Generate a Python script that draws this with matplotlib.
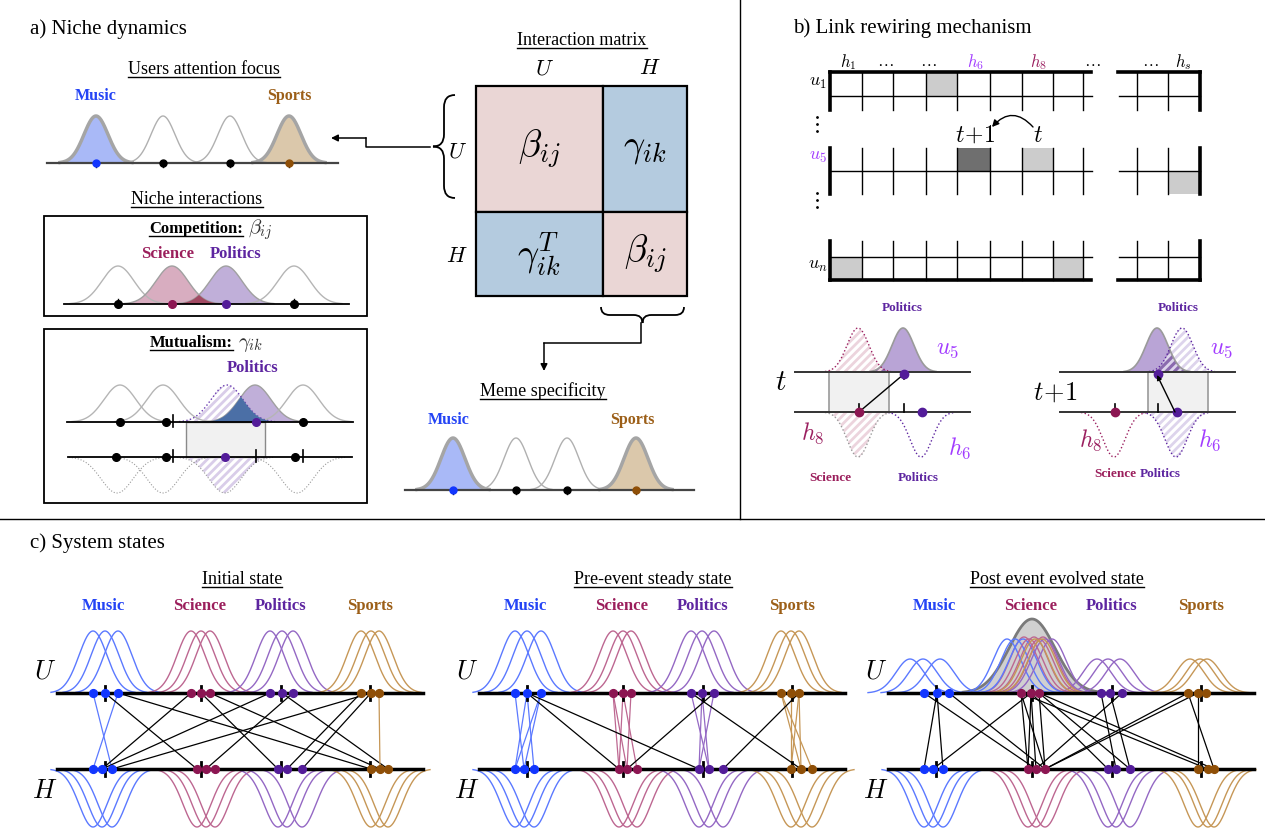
import numpy as np
import matplotlib
matplotlib.use("Agg")
import matplotlib.pyplot as plt
from matplotlib.patches import Rectangle, PathPatch, FancyArrowPatch
from matplotlib.path import Path

plt.rcParams["font.family"] = ["Liberation Serif", "DejaVu Serif"]
plt.rcParams["mathtext.fontset"] = "cm"
plt.rcParams["hatch.linewidth"] = 2.0

# topics
topics = ["Music", "Science", "Politics", "Sports"]
text_colors = ["#2444f5", "#9b1f5c", "#5d25a0", "#9c5f18"]
dot_colors = ["#1236ff", "#8c1652", "#531c99", "#8f4f07"]
curve_colors = ["#5b79ff", "#bd6791", "#9468c4", "#c69757"]
fill_colors = ["#a9b9f7", "#d8adc0", "#c0afd9", "#dbc8ab"]

# a) niche dynamics
focus_centres = [96, 163, 230, 289]
focus_topics = [0, None, None, 3]
meme_centres = [453, 516, 567, 636]
meme_topics = [0, None, None, 3]
competition_centres = [118, 172, 226, 294]
competition_topics = [None, 1, 2, None]
competition_label_x = [None, 168, 236, None]
mutual_user_centres = [120, 163, 255, 303]
mutual_user_dots = [120, 166, 256, 303]
mutual_meme_centres = [117, 163, 225, 297]
mutual_meme_dots = [116, 166, 225, 295]
mutual_topics = [None, None, 2, None]
mutual_ticks_top = [173]
mutual_ticks_bottom = [173, 256, 303]

# interaction matrix
matrix_share = [0.6, 0.4]
matrix_names = ["U", "H"]
matrix_labels = [[r"$\beta_{ij}$", r"$\gamma_{ik}$"],
                 [r"$\gamma_{ik}^{T}$", r"$\beta_{ij}$"]]
matrix_kind = [["comp", "mut"], ["mut", "comp"]]

# b) adjacency matrix u x h, shaded cells as (row band, column)
col_labels = [r"$h_1$", r"$\ldots$", r"$\ldots$", r"$h_6$", r"$h_8$", r"$\ldots$", r"$\ldots$", r"$h_s$"]
row_labels = [r"$u_1$", r"$u_5$", r"$u_n$"]
light_cells = [(0, 3), (1, 6), (3, 0), (3, 7)]
dark_cells = [(1, 4)]
tail_light_cells = [(2, 1)]

# c) system states: niche positions of users (U) and memes (H) per topic
topic_ticks = [105, 201, 281, 370]
initial_users = [[93, 105, 118], [191, 201, 210], [270, 282, 293], [361, 371, 379]]
initial_memes = [[93, 102, 112], [197, 206, 215], [278, 287, 302], [371, 380, 388]]
initial_links = [((0, 0), (0, 2)), ((0, 2), (0, 0)), ((0, 1), (1, 0)), ((0, 2), (3, 0)),
                 ((1, 0), (0, 1)), ((2, 0), (0, 1)), ((3, 1), (0, 2)), ((1, 1), (2, 0)),
                 ((1, 2), (3, 1)), ((2, 2), (1, 1)), ((2, 1), (3, 2)), ((3, 0), (2, 1)),
                 ((3, 1), (2, 2)), ((3, 2), (3, 1))]

pre_users = [[93, 105, 119], [191, 201, 209], [269, 280, 292], [359, 369, 377]]
pre_memes = [[93, 102, 112], [197, 205, 215], [277, 287, 301], [369, 379, 390]]
pre_links = [((0, 0), (0, 1)), ((0, 1), (0, 0)), ((0, 1), (0, 2)), ((0, 2), (0, 0)), ((0, 2), (0, 1)),
             ((1, 0), (1, 0)), ((1, 0), (1, 1)), ((1, 1), (1, 0)), ((1, 2), (1, 1)), ((1, 1), (1, 2)),
             ((2, 0), (2, 1)), ((2, 1), (2, 0)), ((2, 2), (2, 0)), ((2, 1), (2, 1)),
             ((3, 0), (3, 1)), ((3, 0), (3, 2)), ((3, 1), (3, 0)), ((3, 2), (3, 1)), ((3, 2), (3, 0)),
             ((0, 1), (1, 0)), ((0, 1), (2, 0)), ((2, 2), (1, 1)), ((2, 0), (3, 1)), ((3, 2), (2, 2))]

post_users = [[93, 106, 118], [190, 200, 208], [270, 279, 291], [357, 367, 375]]
post_memes = [[93, 102, 112], [197, 205, 214], [277, 285, 299], [367, 377, 383]]
post_curves = [[79, 92, 109], [193, 203, 212], [266, 277, 289], [359, 369, 376]]
post_heights = [34, 56, 34, 34]
post_migrated = [(0, 176), (0, 184), (0, 192), (1, 198), (1, 208), (2, 214), (2, 221), (3, 204), (3, 211)]
post_event = (201, 74, 23)
post_links = [((0, 1), (0, 0)), ((0, 1), (0, 2)), ((0, 0), (1, 1)), ((0, 2), (1, 2)), ((1, 1), (0, 1)),
              ((1, 0), (1, 0)), ((1, 1), (1, 0)), ((1, 1), (1, 1)), ((1, 2), (1, 2)), ((1, 0), (1, 2)),
              ((1, 1), (2, 0)), ((1, 2), (2, 2)), ((1, 0), (3, 1)), ((1, 2), (3, 2)),
              ((2, 0), (2, 1)), ((2, 1), (2, 2)), ((2, 2), (1, 1)),
              ((3, 0), (1, 2)), ((3, 1), (1, 2)), ((3, 0), (3, 2)), ((3, 1), (3, 0))]


fig = plt.figure(figsize=(12.65, 8.31), dpi=100)
ax = fig.add_axes([0, 0, 1, 1])
ax.set_xlim(0, 1265)
ax.set_ylim(831, 0)
ax.axis("off")

underline = []


def bump(c, base, h, s, span=3.0):
    x = np.linspace(c - span * s, c + span * s, 200)
    return x, base - h * np.exp(-0.5 * ((x - c) / s) ** 2)


def curve(c, base, h, s, color="#aaaaaa", lw=1.0, ls="-", fill=None, hatch=None, z=2, alpha=1.0):
    x, y = bump(c, base, h, s)
    if fill is not None:
        ax.fill_between(x, base, y, facecolor=fill, lw=0, zorder=z)
    if hatch is not None:
        ax.fill_between(x, base, y, facecolor="none", edgecolor=hatch, hatch="////", lw=0, zorder=z)
    ax.plot(x, y, color=color, lw=lw, ls=ls, alpha=alpha, zorder=z + 0.5)


def overlap(c1, c2, base, h, s, color, z=3):
    x = np.linspace(min(c1, c2) - 3 * s, max(c1, c2) + 3 * s, 300)
    g = np.minimum(np.exp(-0.5 * ((x - c1) / s) ** 2), np.exp(-0.5 * ((x - c2) / s) ** 2))
    ax.fill_between(x, base, base - h * g, facecolor=color, lw=0, zorder=z)


def dot(x, y, color, ms=5.5, z=6):
    ax.plot(x, y, "o", color=color, ms=ms, zorder=z)


def tick(x, y, up=6, down=6, lw=1.5):
    ax.plot([x, x], [y - up, y + down], color="k", lw=lw, zorder=5)


def label(x, y, s, color, size=12):
    ax.text(x, y, s, color=color, fontsize=size, fontweight="bold", ha="center", va="center")


def heading(x, y, s, size=13, ha="center", **kw):
    t = ax.text(x, y, s, fontsize=size, ha=ha, va="baseline", **kw)
    underline.append((t, y))


def brace(a0, a1, end, tip, vertical=True, lw=1.3):
    mid = (end + tip) / 2
    c = (a0 + a1) / 2
    r = abs(tip - end) * 0.55
    pts = [(a0, end), (a0, mid), (a0 + r, mid), (c - r, mid), (c, mid), (c, tip),
           (c, mid), (c + r, mid), (a1 - r, mid), (a1, mid), (a1, end)]
    codes = [Path.MOVETO, Path.CURVE3, Path.CURVE3, Path.LINETO, Path.CURVE3, Path.CURVE3,
             Path.CURVE3, Path.CURVE3, Path.LINETO, Path.CURVE3, Path.CURVE3]
    if vertical:
        pts = [(q, p) for p, q in pts]
    ax.add_patch(PathPatch(Path(pts, codes), fill=False, lw=lw, ec="k"))


def arrow(p0, p1, lw=1.1, scale=10, style="arc3"):
    ax.add_patch(FancyArrowPatch(p0, p1, arrowstyle="-|>", mutation_scale=scale, color="k",
                                 lw=lw, shrinkA=0, shrinkB=0, connectionstyle=style, zorder=7))


# ---------------- a) Niche dynamics ----------------
ax.text(30, 34, "a) Niche dynamics", fontsize=15, va="baseline")

heading(204, 74, "Users attention focus")
ax.plot([47, 338], [163, 163], color="#444444", lw=1.6, zorder=4)
for c, t in zip(focus_centres, focus_topics):
    if t is None:
        curve(c, 163, 47, 12, color="#b0b0b0", lw=1.0)
        dot(c, 163, "k", ms=5)
    else:
        curve(c, 163, 47, 12, color="#a5a5a5", lw=2.5, fill=fill_colors[t])
        dot(c, 163, dot_colors[t], ms=5)
        label(c, 96, topics[t], text_colors[t], 11.5)
    tick(c, 163, 0, 4, lw=1)

heading(197, 204, "Niche interactions")

# competition
ax.add_patch(Rectangle((44, 216), 323, 100, fill=False, lw=1.3, ec="k"))
heading(243, 233, "Competition:", size=12, ha="right", fontweight="bold")
ax.text(248, 233, r"$\beta_{ij}$", fontsize=15, va="baseline", color="#333333")
ax.plot([64, 349], [304, 304], color="k", lw=1.3, zorder=4)
for c, t, lx in zip(competition_centres, competition_topics, competition_label_x):
    if t is None:
        curve(c, 304, 38, 16, color="#b5b5b5", lw=1.0)
        dot(c, 304, "k", ms=5.5)
        tick(c, 304, 5, 0, lw=1)
    else:
        curve(c, 304, 38, 16, color="#a0a0a0", lw=1.0, fill=fill_colors[t])
        dot(c, 304, dot_colors[t], ms=5.5)
        label(lx, 254, topics[t], text_colors[t], 12)
overlap(competition_centres[1], competition_centres[2], 304, 38, 16, "#a24a63")

# mutualism
ax.add_patch(Rectangle((44, 329), 323, 174, fill=False, lw=1.3, ec="k"))
heading(233, 347, "Mutualism:", size=12, ha="right", fontweight="bold")
ax.text(238, 347, r"$\gamma_{ik}$", fontsize=15, va="baseline", color="#333333")
ax.add_patch(Rectangle((186, 422), 79, 35, fc="#f1f1f1", ec="#8a8a8a", lw=1.0, zorder=1))
for c, d, t in zip(mutual_user_centres, mutual_user_dots, mutual_topics):
    if t is None:
        curve(c, 422, 37, 16, color="#b5b5b5", lw=1.0)
        dot(d, 422, "k", ms=5.5)
    else:
        curve(c, 422, 37, 16, color="#a0a0a0", lw=1.0, fill=fill_colors[t])
        dot(d, 422, dot_colors[t], ms=5.5)
        label(c - 2, 368, topics[t], text_colors[t], 12)
proj = mutual_meme_centres[2] + 2
curve(proj, 422, 37, 16, color="#6a3cb0", lw=1.0, ls=":", hatch="#d9cde9", z=2.2)
overlap(proj, mutual_user_centres[2], 422, 37, 16, "#4b6fa6", z=3)
for c, d, t in zip(mutual_meme_centres, mutual_meme_dots, mutual_topics):
    if t is None:
        curve(c, 457, -36, 16, color="#9a9a9a", lw=0.8, ls=":")
        dot(d, 457, "k", ms=5.5)
    else:
        curve(c, 457, -36, 16, color="#9a9a9a", lw=0.8, ls=":", hatch="#d9cde9")
        dot(d, 457, dot_colors[t], ms=5.5)
for c in mutual_ticks_top:
    tick(c, 422, 7, 5, lw=1.2)
for c in mutual_ticks_bottom:
    tick(c, 457, 7, 5, lw=1.2)
ax.plot([67, 353], [422, 422], color="k", lw=1.3, zorder=4)
ax.plot([68, 352], [457, 457], color="k", lw=1.3, zorder=4)

# interaction matrix
heading(582, 45, "Interaction matrix")
mx0, my0, mw, mh = 476, 86, 211, 210
cw = [s * mw for s in matrix_share]
ch = [s * mh for s in matrix_share]
for i in range(2):
    for j in range(2):
        x = mx0 + sum(cw[:j])
        y = my0 + sum(ch[:i])
        fc = "#ead6d5" if matrix_kind[i][j] == "comp" else "#b4cbdf"
        ax.add_patch(Rectangle((x, y), cw[j], ch[i], fc=fc, ec="k", lw=1.6, zorder=2))
        ax.text(x + cw[j] / 2, y + ch[i] / 2, matrix_labels[i][j], fontsize=27,
                ha="center", va="center", zorder=3)
    ax.text(mx0 + sum(cw[:i]) + cw[i] / 2 + 5, 70, "$%s$" % matrix_names[i], fontsize=16,
            ha="center", va="center")
    ax.text(457, my0 + sum(ch[:i]) + ch[i] / 2 + 4, "$%s$" % matrix_names[i], fontsize=16,
            ha="center", va="center")
brace(95, 198, 455, 433, vertical=True)
brace(601, 684, 307, 323, vertical=False)
ax.plot([430, 366, 366], [147, 147, 138], color="k", lw=1.1)
arrow((366, 138), (331, 138))
ax.plot([641, 641, 544], [323, 343, 343], color="k", lw=1.1)
arrow((544, 343), (544, 371))

# meme specificity
heading(543, 396, "Meme specificity")
ax.plot([405, 694], [490, 490], color="#444444", lw=1.6, zorder=4)
for c, t in zip(meme_centres, meme_topics):
    if t is None:
        curve(c, 490, 52, 12, color="#b0b0b0", lw=1.0)
        dot(c, 490, "k", ms=5)
    else:
        curve(c, 490, 52, 12, color="#a5a5a5", lw=2.5, fill=fill_colors[t])
        dot(c, 490, dot_colors[t], ms=5)
        label(c - 4, 420, topics[t], text_colors[t], 11.5)
    tick(c, 490, 0, 4, lw=1)

# ---------------- b) Link rewiring mechanism ----------------
ax.text(793, 33, "b) Link rewiring mechanism", fontsize=15, va="baseline")
edges = [830, 862, 893, 926, 957, 990, 1022, 1053, 1083]
tail = [1122, 1137, 1168, 1200]
bands = [(72, 96), (148, 171), (171, 194), (257, 280)]
blocks = [(72, 110, 96), (148, 194, 171), (241, 280, 257)]
for y0, y1, ym in blocks:
    for x in edges[1:]:
        ax.plot([x, x], [y0, y1], color="k", lw=1.0, zorder=3)
    for x in tail[1:-1]:
        ax.plot([x, x], [y0, y1], color="k", lw=1.0, zorder=3)
    ax.plot([edges[0], edges[0]], [y0, y1], color="k", lw=2.6, zorder=4)
    ax.plot([tail[-1], tail[-1]], [y0, y1], color="k", lw=2.6, zorder=4)
    ax.plot([edges[0], 1092], [ym, ym], color="k", lw=1.0, zorder=3)
    ax.plot([tail[0] - 3, tail[-1]], [ym, ym], color="k", lw=1.0, zorder=3)
for y in (72, 280):
    ax.plot([edges[0], 1091], [y, y], color="k", lw=2.6, zorder=4)
    ax.plot([tail[0] - 4, tail[-1]], [y, y], color="k", lw=2.6, zorder=4)
for b, c in light_cells:
    ax.add_patch(Rectangle((edges[c], bands[b][0]), edges[c + 1] - edges[c],
                           bands[b][1] - bands[b][0], fc="#cccccc", lw=0, zorder=2))
for b, c in dark_cells:
    ax.add_patch(Rectangle((edges[c], bands[b][0]), edges[c + 1] - edges[c],
                           bands[b][1] - bands[b][0], fc="#6f6f6f", lw=0, zorder=2))
for b, c in tail_light_cells:
    ax.add_patch(Rectangle((tail[c + 1], bands[b][0]), tail[c + 2] - tail[c + 1],
                           bands[b][1] - bands[b][0], fc="#cccccc", lw=0, zorder=2))
col_x = [848, 885, 928, 975, 1038, 1092, 1150, 1183]
col_c = ["k", "k", "k", "#a23cff", "#9b2060", "k", "k", "k"]
for x, s, c in zip(col_x, col_labels, col_c):
    ax.text(x, 62, s, fontsize=12, color=c, ha="center", va="center")
for y, s, c in zip([83, 157, 266], row_labels, ["k", "#a23cff", "k"]):
    ax.text(818, y, s, fontsize=13, color=c, ha="center", va="center")
for yc in (124, 200):
    ax.plot([817, 817, 817], [yc - 7, yc, yc + 7], "k.", ms=2)
ax.text(975, 136, r"$t\!+\!1$", fontsize=17, ha="center", va="center")
ax.text(1038, 136, r"$t$", fontsize=17, ha="center", va="center")
arrow((1033, 127), (992, 127), lw=1.0, style="arc3,rad=0.55")


def rewire(x0, user, proj, proj_col, proj_hatch, h8, h6, h8_hatch, box, link_from, link_to,
           ticks_top, ticks_bot, head):
    top, bot = 372, 412
    ax.add_patch(Rectangle((x0 + box[0], top), box[1] - box[0], bot - top,
                           fc="#f1f1f1", ec="#9a9a9a", lw=1.2, zorder=1))
    curve(x0 + user, top, 44, 11, color="#9a9a9a", lw=1.2, fill="#b9a4d6", z=2)
    curve(x0 + proj, top, 44, 11, color=proj_col, lw=1.0, ls=":", hatch=proj_hatch, z=2.2)
    overlap(x0 + user, x0 + proj, top, 44, 11, "#8a6aae", z=2.1)
    if h8_hatch:
        curve(x0 + h8, bot, -45, 11, color="#9a9a9a", lw=1.0, ls=":", hatch="#ecd4dd")
        curve(x0 + h6, bot, -45, 11, color="#5d25a0", lw=1.0, ls=":")
    else:
        curve(x0 + h8, bot, -45, 11, color="#9b2060", lw=1.0, ls=":")
        curve(x0 + h6, bot, -45, 11, color="#5d25a0", lw=1.0, ls=":", hatch="#ddd4ec")
    ax.plot([x0 - 0, x0 + 175], [top, top], color="#333333", lw=1.4, zorder=4)
    ax.plot([x0 - 0, x0 + 175], [bot, bot], color="#333333", lw=1.4, zorder=4)
    for c in ticks_top:
        tick(x0 + c, top, 0, 7, lw=1.2)
    for c in ticks_bot:
        tick(x0 + c, bot, 8, 0, lw=1.2)
    dot(x0 + user + 1, top + 2, "#531c99", ms=6)
    dot(x0 + h8 + 1, bot, "#8c1652", ms=6)
    dot(x0 + h6 + 1, bot, "#531c99", ms=6)
    if head:
        arrow((x0 + link_from, bot), (x0 + link_to, top + 3), lw=1.0, scale=7)
    else:
        ax.plot([x0 + link_from, x0 + link_to], [bot, top + 2], color="k", lw=1.0, zorder=5)


rewire(795, 108, 63, "#9b2060", "#ecd4dd", 63, 126, True, (34, 94), 64, 109, [109], [64, 109], False)
rewire(1060, 97, 122, "#5d25a0", "#ddd4ec", 54, 116, False, (88, 148), 115, 97, [], [55, 98], True)
ax.text(781, 383, r"$t$", fontsize=21, ha="center", va="center")
ax.text(1055, 393, r"$t\!+\!1$", fontsize=19, ha="center", va="center")
for x, y, s, c in [(813, 433, r"$h_8$", "#9b2060"), (960, 448, r"$h_6$", "#a23cff"),
                   (948, 350, r"$u_5$", "#a23cff"), (1091, 440, r"$h_8$", "#9b2060"),
                   (1210, 440, r"$h_6$", "#a23cff"), (1222, 350, r"$u_5$", "#a23cff")]:
    ax.text(x, y, s, fontsize=17, color=c, ha="center", va="center")
for x, y, t in [(902, 308, 2), (830, 478, 1), (918, 478, 2),
                (1178, 308, 2), (1115, 474, 1), (1160, 474, 2)]:
    label(x, y, topics[t], text_colors[t], 9.5)

# ---------------- c) System states ----------------
ax.text(30, 548, "c) System states", fontsize=15, va="baseline")
label_x = [103, 200, 281, 370]


def state(x0, title, title_x, users, memes, links, colour_own=True, curves=None, heights=None,
          migrated=None, event=None):
    top, bot = 693, 769
    heading(x0 + title_x, 584, title)
    for i, t in enumerate(topics):
        label(x0 + label_x[i], 606, t, text_colors[i], 12)
    ax.text(x0 + 45, 672, "$U$", fontsize=19, ha="center", va="center")
    ax.text(x0 + 45, 792, "$H$", fontsize=19, ha="center", va="center")
    if event is not None:
        c, h, s = event
        curve(x0 + c, top, h, s, color="#7a7a7a", lw=2.0, fill="#d0d0d0", z=1)
    if curves is None:
        curves = users
    for i in range(4):
        h = 62 if heights is None else heights[i]
        for c in curves[i]:
            curve(x0 + c, top, h, 14, color=curve_colors[i], lw=1.0, z=2)
        for c in memes[i]:
            curve(x0 + c, bot, -58, 14, color=curve_colors[i], lw=1.0, z=2)
    if migrated is not None:
        for i, c in migrated:
            curve(x0 + c, top, 54, 14, color=curve_colors[i], lw=1.0, z=2)
    for (ti, ui), (tj, mj) in links:
        col = curve_colors[ti] if (colour_own and ti == tj) else "k"
        ax.plot([x0 + users[ti][ui], x0 + memes[tj][mj]], [top, bot], color=col, lw=0.9, zorder=3)
    ax.plot([x0 + 57, x0 + 423], [top, top], color="k", lw=2.5, zorder=4)
    ax.plot([x0 + 57, x0 + 423], [bot, bot], color="k", lw=2.5, zorder=4)
    for i in range(4):
        tick(x0 + topic_ticks[i], top, 7, 7, lw=2)
        tick(x0 + topic_ticks[i], bot, 7, 7, lw=2)
        for c in users[i]:
            dot(x0 + c, top, dot_colors[i], ms=5.6)
        for c in memes[i]:
            dot(x0 + c, bot, dot_colors[i], ms=5.6)


state(0, "Initial state", 242, initial_users, initial_memes, initial_links)
state(422, "Pre-event steady state", 231, pre_users, pre_memes, pre_links)
state(831, "Post event evolved state", 226, post_users, post_memes, post_links, colour_own=False,
      curves=post_curves, heights=post_heights, migrated=post_migrated, event=post_event)

# panel separators
ax.plot([740, 740], [0, 519], color="k", lw=1.0)
ax.plot([0, 1265], [519, 519], color="k", lw=1.0)

fig.canvas.draw()
rend = fig.canvas.get_renderer()
inv = ax.transData.inverted()
for t, y in underline:
    bb = t.get_window_extent(rend)
    xa = inv.transform((bb.x0, bb.y0))[0]
    xb = inv.transform((bb.x1, bb.y0))[0]
    ax.plot([xa, xb], [y + 2.5, y + 2.5], color=t.get_color(), lw=1.0)

fig.savefig("out.png", dpi=100)
